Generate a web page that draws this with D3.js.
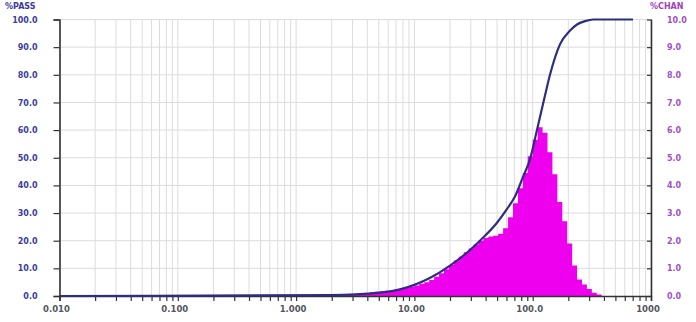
<!DOCTYPE html>
<html>
<head>
<meta charset="utf-8">
<script src="https://cdn.jsdelivr.net/npm/d3@7"></script>
<style>
  html, body { margin: 0; padding: 0; background: #fff; }
  svg { display: block; }
  text { font-family: "DejaVu Sans", sans-serif; font-weight: bold; }
</style>
</head>
<body>
<svg id="chart" width="696" height="322"></svg>
<script>
// Size axis (µm, log) labels
const sizeTicks = [0.01, 0.1, 1, 10, 100, 1000];
const sizeTickLabels = ["0.010", "0.100", "1.000", "10.00", "100.0", "1000"];

// Left axis: cumulative % passing
const passTicks = [0, 10, 20, 30, 40, 50, 60, 70, 80, 90, 100];
const passTickLabels = ["0.0", "10.0", "20.0", "30.0", "40.0", "50.0", "60.0", "70.0", "80.0", "90.0", "100.0"];

// Right axis: % in channel
const chanTicks = [0, 1, 2, 3, 4, 5, 6, 7, 8, 9, 10];
const chanTickLabels = ["0.0", "1.0", "2.0", "3.0", "4.0", "5.0", "6.0", "7.0", "8.0", "9.0", "10.0"];

// Channel edges (µm) and % per channel
const chanEdges = [
  2.610, 2.873, 3.162, 3.481, 3.831, 4.217, 4.642, 5.109, 5.623, 6.190,
  6.813, 7.499, 8.254, 9.085, 10.00, 11.01, 12.12, 13.34, 14.68, 16.16,
  17.78, 19.57, 21.54, 23.71, 26.10, 28.73, 31.62, 34.81, 38.31, 42.17,
  46.42, 51.09, 56.23, 61.90, 68.13, 74.99, 82.54, 90.85, 100.0, 110.1,
  121.2, 133.4, 146.8, 161.6, 177.8, 195.7, 215.4, 237.1, 261.0, 287.3,
  316.2, 348.1, 383.1
];
const chanValues = [
  0.05, 0.06, 0.08, 0.09, 0.11, 0.13, 0.15, 0.17, 0.19, 0.21,
  0.24, 0.27, 0.30, 0.34, 0.38, 0.44, 0.50, 0.58, 0.70, 0.82,
  0.97, 1.12, 1.28, 1.42, 1.58, 1.72, 1.86, 2.00, 2.10, 2.15,
  2.18, 2.25, 2.45, 2.85, 3.35, 3.90, 4.45, 5.05, 5.65, 6.10,
  5.90, 5.20, 4.40, 3.40, 2.70, 1.90, 1.10, 0.60, 0.42, 0.25,
  0.12, 0.05
];

// Cumulative % passing curve
const passSizes = [0.01, 1.94, 5.12, 7.55, 13.5, 20.0, 28.4, 35.8, 49.9, 60.7, 70.8, 82.7, 94.9, 108.7, 127, 140, 170, 207, 237, 277, 324, 705];
const passValues = [0, 0.3, 1.2, 2.4, 6.5, 11, 16, 20, 26.5, 31.5, 36, 43, 49.5, 60, 72.5, 80, 91, 96, 98.2, 99.4, 100, 100];

const svg = d3.select("#chart");
const plotLeft = 59.5, plotRight = 651, plotTop = 19.5, plotBottom = 296;

const x = d3.scaleLog().domain([0.01, 1000]).range([plotLeft, plotRight]);
const yPass = d3.scaleLinear().domain([0, 100]).range([plotBottom, plotTop]);
const yChan = d3.scaleLinear().domain([0, 10]).range([plotBottom, plotTop]);

// Grid
const grid = svg.append("g");
grid.selectAll("line.v")
  .data(x.ticks())
  .join("line")
  .attr("class", "v")
  .attr("x1", d => x(d)).attr("x2", d => x(d))
  .attr("y1", plotTop).attr("y2", plotBottom)
  .attr("stroke", "#dcdcdc").attr("stroke-width", 1);
grid.selectAll("line.h")
  .data(passTicks.slice(1))
  .join("line")
  .attr("class", "h")
  .attr("x1", plotLeft).attr("x2", plotRight)
  .attr("y1", d => yPass(d)).attr("y2", d => yPass(d))
  .attr("stroke", "#dcdcdc").attr("stroke-width", 1);

// Channel histogram
const histPts = chanValues.map((v, i) => [chanEdges[i], v]);
histPts.push([chanEdges[chanEdges.length - 1], chanValues[chanValues.length - 1]]);
svg.append("path")
  .datum(histPts)
  .attr("fill", "#ee00ee")
  .attr("d", d3.area()
    .curve(d3.curveStepAfter)
    .x(d => x(d[0]))
    .y0(plotBottom)
    .y1(d => yChan(d[1])));

// Bottom axis
const xAxis = d3.axisBottom(x)
  .tickValues(x.ticks())
  .tickSize(5)
  .tickFormat("");
const gx = svg.append("g").attr("transform", `translate(0,${plotBottom})`).call(xAxis);
gx.select(".domain").attr("stroke", "#333").attr("stroke-width", 1.6);
gx.selectAll(".tick line").attr("stroke", "#333").attr("stroke-width", 1.2);

svg.append("g").selectAll("text")
  .data(sizeTicks)
  .join("text")
  .attr("x", d => x(d) - 3)
  .attr("y", 312)
  .attr("text-anchor", "middle")
  .attr("font-size", 8.5)
  .attr("fill", "#55555f")
  .text((d, i) => sizeTickLabels[i]);

// Cumulative curve
svg.append("path")
  .datum(passSizes.map((s, i) => [s, passValues[i]]))
  .attr("fill", "none")
  .attr("stroke", "#2d2d82")
  .attr("stroke-width", 2.2)
  .attr("d", d3.line()
    .curve(d3.curveMonotoneX)
    .x(d => x(d[0]))
    .y(d => yPass(d[1])));

// Left axis
const gl = svg.append("g").attr("transform", `translate(${plotLeft},0)`)
  .call(d3.axisLeft(yPass).tickValues(passTicks).tickSize(6).tickFormat((d, i) => passTickLabels[i]));
gl.select(".domain").attr("stroke", "#333").attr("stroke-width", 1.6);
gl.selectAll(".tick line").attr("stroke", "#333").attr("stroke-width", 1.2);
gl.selectAll(".tick text")
  .attr("x", -22)
  .attr("font-size", 8)
  .attr("font-family", "DejaVu Sans, sans-serif")
  .attr("font-weight", "bold")
  .attr("fill", "#3c3ca0");

// Right axis
const gr = svg.append("g").attr("transform", `translate(${plotRight},0)`)
  .call(d3.axisRight(yChan).tickValues(chanTicks).tickSize(0).tickFormat((d, i) => chanTickLabels[i]));
gr.select(".domain").attr("stroke", "#333").attr("stroke-width", 1.6);
gr.selectAll(".tick line").attr("x1", -4).attr("x2", 1).attr("stroke", "#333").attr("stroke-width", 1.2);
gr.selectAll(".tick text")
  .attr("x", 16)
  .attr("font-size", 8)
  .attr("font-family", "DejaVu Sans, sans-serif")
  .attr("font-weight", "bold")
  .attr("fill", "#a050c8");

// Axis titles
svg.append("text").attr("x", 5).attr("y", 9)
  .attr("font-size", 8).attr("fill", "#3c3ca0").text("%PASS");
svg.append("text").attr("x", 650).attr("y", 9)
  .attr("font-size", 8).attr("fill", "#a040c0").text("%CHAN");
</script>
</body>
</html>
